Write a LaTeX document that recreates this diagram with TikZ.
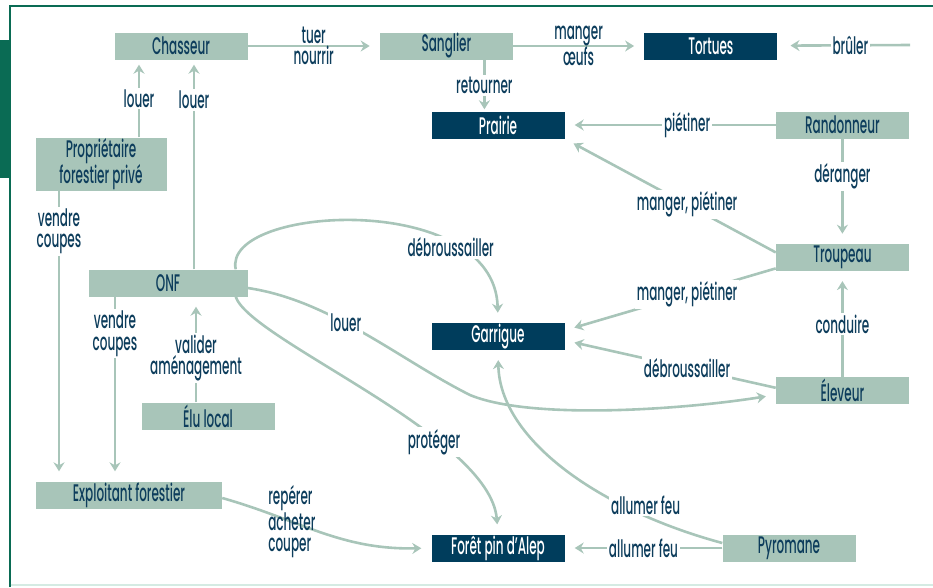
\documentclass[tikz,border=0pt]{standalone}
\usepackage{fontspec}
\setmainfont{Poppins}[FakeStretch=0.5, UprightFont=* Medium]
\usetikzlibrary{arrows.meta, positioning}
\definecolor{sage}{HTML}{A8C5B9}
\definecolor{navy}{HTML}{003D5C}
\definecolor{ink}{HTML}{0D3D5C}
\definecolor{rim}{HTML}{0A6B54}
\definecolor{pale}{HTML}{D5EBE3}
\newcommand{\Txt}{\fontsize{24}{21.5}\selectfont}
\tikzset{
    actor/.style={fill=sage, text=ink, minimum width=133pt, minimum height=27pt, inner sep=0pt, font=\Txt},
    place/.style={fill=navy, text=white, minimum width=133pt, minimum height=27pt, inner sep=0pt, font=\Txt},
    verb/.style={fill=white, text=ink, inner sep=2pt, font=\Txt, align=center},
    hide/.style={draw=none, fill=none},
    arr/.style={draw=sage, line width=2.6pt, -{Stealth[length=9pt, width=11pt, inset=3pt]}, shorten >=10pt},
}

\begin{document}
\begin{tikzpicture}[x=1pt, y=-1pt]
    \tikzset{
      node distance=132pt
    }
    \useasboundingbox (0,0) rectangle (933,587);
    \draw[rim, line width=2pt] (9.5,587) -- (9.5,6) -- (933,6);
    \fill[rim] (0,40) rectangle (9,178);
    \draw[pale, line width=2pt] (10.5,585) -- (933,585);

    \node[actor] (chasseur) at (181,46) {Chasseur};
    \node[actor, right=of chasseur] (sanglier) {Sanglier};
    \node[place, right=131pt of sanglier] (tortues) {Tortues};
    \coordinate (feu) at (910,45);
    \draw (sanglier) edge[arr] node[verb, hide]{manger\\œufs} (tortues);
    \draw (chasseur) edge[arr] node[verb, hide]{tuer\\nourrir} (sanglier);
    \draw (feu) edge[arr, shorten >=13pt] node[verb, pos=0.45]{brûler} (tortues);

    \node[place] (prairie) at (498,125) {Prairie};
    \node[actor, right=211pt of prairie] (randonneur) {Randonneur};
    \node[actor, below=105pt of randonneur] (troupeau) {Troupeau};
    \node[actor, below=106pt of troupeau] (eleveur) {Éleveur};
    \node[place, below=184pt of prairie] (garrigue) {Garrigue};
    \draw ([xshift=38pt]sanglier.south) edge[arr, shorten >=2pt] node[verb]{retourner} ([xshift=38pt]sanglier.south |- prairie.north);
    \draw (randonneur) edge[arr] node[verb, pos=0.42]{piétiner} (prairie);
    \draw (randonneur) edge[arr] node[verb, pos=0.36]{déranger} (troupeau);
    \draw (eleveur) edge[arr] node[verb]{conduire} (troupeau);
    \draw ([yshift=5pt]troupeau.west) edge[arr] node[verb, pos=0.42]{manger, piétiner} (prairie.south east);
    \draw ([yshift=-11pt]troupeau.west) edge[arr] node[verb, pos=0.42]{manger, piétiner} ([yshift=6pt]garrigue.east);
    \draw ([yshift=3pt]eleveur.west) edge[arr] node[verb, pos=0.42]{débroussailler} ([yshift=-4pt]garrigue.east);

    \node[actor, minimum width=131pt, minimum height=53pt, align=center] (proprio) at (101,164) {Propriétaire\\forestier privé};
    \node[actor, minimum width=159pt] (onf) at (168,283) {ONF};
    \node[actor] (elu) at (208,416) {Élu local};
    \node[actor, minimum width=186pt] (exploitant) at (129,495) {Exploitant forestier};
    \draw ([xshift=38pt]proprio.north) edge[arr, shorten >=5pt] node[verb]{louer} ([xshift=38pt]proprio.north |- chasseur.south);
    \draw ([xshift=26pt]onf.north) edge[arr, shorten >=5pt] node[verb, pos=0.81]{louer} ([xshift=26pt]onf.north |- chasseur.south);
    \draw ([xshift=-42pt]proprio.south) edge[arr] node[verb, pos=0.14]{vendre\\coupes} ([xshift=-42pt]proprio.south |- exploitant.north);
    \draw ([xshift=-53pt]onf.south) edge[arr] node[verb, pos=0.2]{vendre\\coupes} ([xshift=-53pt]onf.south |- exploitant.north);
    \draw ([xshift=-12pt]elu.north) edge[arr] node[verb, pos=0.42]{valider\\aménagement} ([xshift=-12pt]elu.north |- onf.south);

    \node[place] (foret) at (498,548) {Forêt pin d’Alep};
    \node[actor] (pyromane) at (789,548) {Pyromane};
    \draw (pyromane) edge[arr] node[verb]{allumer feu} (foret);
    \draw[arr] ([yshift=5pt]pyromane.west) .. controls (600,510) and (500,440) .. node[verb, pos=0.22, yshift=11pt]{allumer feu} (garrigue.south);
    \draw[arr] ([yshift=-3pt]exploitant.east) .. controls (300,520) and (340,550) .. node[verb, hide, pos=0.2, anchor=west, align=left, yshift=-10pt]{repérer\\acheter\\couper} (foret.west);

    \draw[arr] ([xshift=-12pt]onf.north east) .. controls (222,205) and (495,190) .. node[verb, pos=0.74]{débroussailler} (garrigue.north);
    \draw[arr] ([yshift=-5pt]onf.east) .. controls (330,300) and (400,360) .. node[verb, pos=0.42]{louer} (470,395) .. controls (530,420) and (680,410) .. ([yshift=-4pt]eleveur.west);
    \draw[arr] ([xshift=-12pt]onf.south east) .. controls (250,340) and (490,435) .. node[verb, pos=0.68]{protéger} (foret.north);
  \end{tikzpicture}
\end{document}
